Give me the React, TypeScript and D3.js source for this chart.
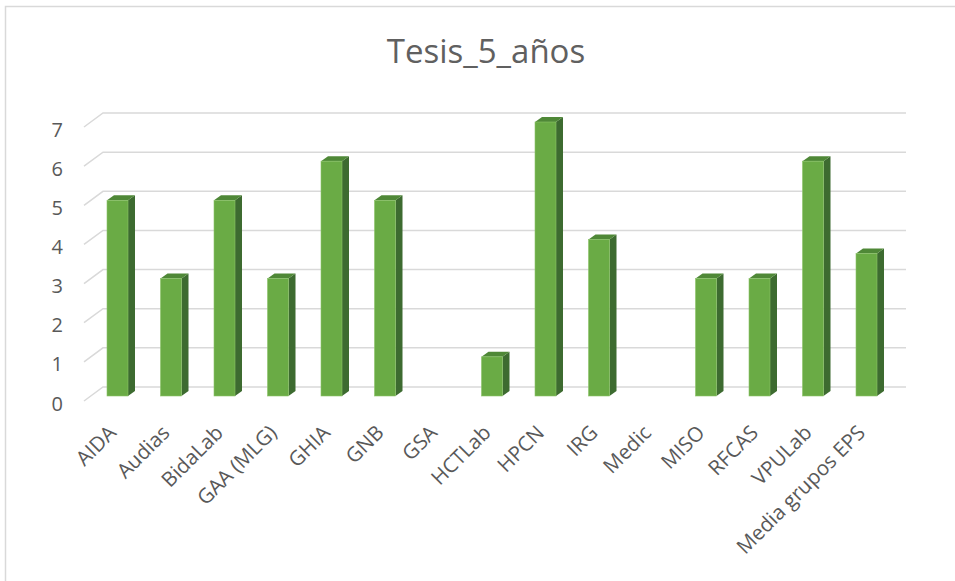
import * as d3 from 'd3';

const categories = [
  'AIDA', 'Audias', 'BidaLab', 'GAA (MLG)', 'GHIA', 'GNB', 'GSA', 'HCTLab',
  'HPCN', 'IRG', 'Medic', 'MISO', 'RFCAS', 'VPULab', 'Media grupos EPS',
];
const tesis = [5, 3, 5, 3, 6, 5, 0, 1, 7, 4, 0, 3, 3, 6, 3.64];
const yTicks = [0, 1, 2, 3, 4, 5, 6, 7];
const title = 'Tesis_5_años';

const W = 955;
const H = 581;

// 3D look: back wall offset from the front plane
const wallDx = 19;
const wallDy = -14;
const barW = 21;
const depthX = 7;
const depthY = -5;

const x = d3.scaleBand<string>().domain(categories).range([90.75, 893.25]);
const yFront = d3.scaleLinear().domain([0, 7]).range([401, 127]);
const yBack = d3.scaleLinear().domain([0, 7]).range([387, 113]);
const yBar = d3.scaleLinear().domain([0, 7]).range([396, 122]);

const plotLeft = 84;
const plotRight = 906;

const textColor = '#595959';
const gridColor = '#d9d9d9';

export default function App() {
  return (
    <div style={{ position: 'absolute', left: 0, top: 0 }}>
      <svg width={W} height={H} style={{ display: 'block', fontFamily: '"Open Sans", sans-serif' }}>
        <rect x={0} y={0} width={W} height={H} fill="#fff" />
        <rect x={5.5} y={6.5} width={W + 10} height={H + 10} fill="none" stroke={gridColor} strokeWidth={1.5} />

        <text x={486} y={63} textAnchor="middle" fontSize={33} fill="#606060">
          {title}
        </text>

        {/* gridlines on the back wall */}
        <g stroke={gridColor} strokeWidth={1.5} fill="none">
          {yTicks.map((t) => (
            <path
              key={t}
              d={`M${plotLeft},${yFront(t)} L${plotLeft + wallDx},${yFront(t) + wallDy} L${plotRight},${yBack(t)}`}
            />
          ))}
        </g>

        {/* y labels */}
        <g fontSize={20} fill={textColor} textAnchor="end">
          {yTicks.map((t) => (
            <text key={t} x={63} y={yFront(t) + 2} dominantBaseline="central">
              {t}
            </text>
          ))}
        </g>

        {/* bars */}
        {categories.map((c, i) => {
          const v = tesis[i];
          if (!v) return null;
          const x0 = (x(c) ?? 0) + (x.bandwidth() - barW) / 2;
          const x1 = x0 + barW;
          const yb = yBar(0);
          const yt = yBar(v);
          return (
            <g key={c}>
              <path
                d={`M${x1},${yb} L${x1},${yt} L${x1 + depthX},${yt + depthY} L${x1 + depthX},${yb + depthY} Z`}
                fill="#3d6b30"
              />
              <path
                d={`M${x0},${yt} L${x0 + depthX},${yt + depthY} L${x1 + depthX},${yt + depthY} L${x1},${yt} Z`}
                fill="#4f8837"
              />
              <rect x={x0} y={yt} width={barW} height={yb - yt} fill="#6aab45" stroke="#8cc46a" strokeWidth={0.6} />
            </g>
          );
        })}

        {/* x labels */}
        <g fontSize={20.5} fill={textColor} textAnchor="end">
          {categories.map((c) => {
            const cx = (x(c) ?? 0) + x.bandwidth() / 2;
            return (
              <text key={c} transform={`translate(${cx},${434}) rotate(-45)`}>
                {c}
              </text>
            );
          })}
        </g>
      </svg>
    </div>
  );
}
